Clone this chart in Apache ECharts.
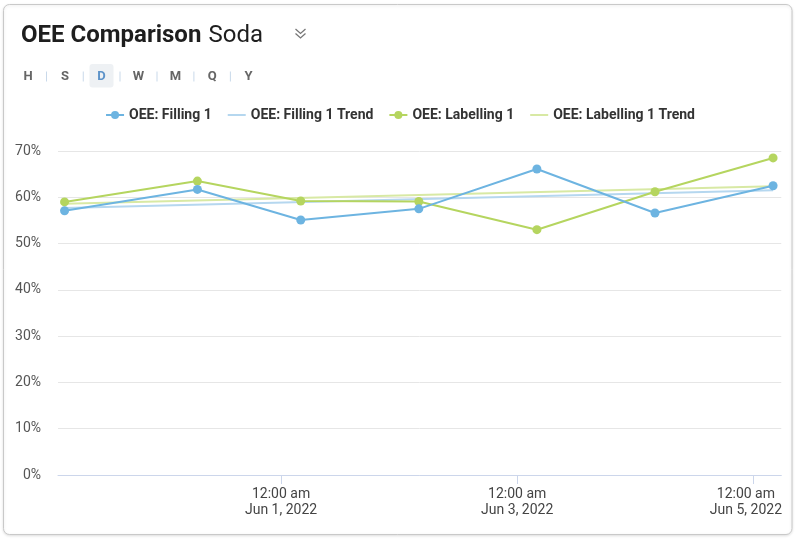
<!DOCTYPE html>
<html>
<head>
<meta charset="utf-8">
<script src="https://cdn.jsdelivr.net/npm/echarts@6/dist/echarts.min.js"></script>
<style>
html,body{margin:0;padding:0;background:#fff;}
#chart{width:800px;height:543px;}
</style>
</head>
<body>
<div id="chart"></div>
<script>
// ---- data ----
const times = ['2022-05-30 04:00', '2022-05-31 07:00', '2022-06-01 04:00', '2022-06-02 04:00', '2022-06-03 04:00', '2022-06-04 04:00', '2022-06-05 04:00'];
const filling1 = [57.1, 61.7, 55.1, 57.5, 66.1, 56.6, 62.5];
const labelling1 = [59.0, 63.5, 59.2, 59.1, 53.0, 61.2, 68.5];
const trendTimes = ['2022-05-30 04:00', '2022-06-05 04:00'];
const filling1Trend = [57.7, 61.5];
const labelling1Trend = [58.6, 62.4];
const xTickTimes = ['2022-06-01 00:00', '2022-06-03 00:00', '2022-06-05 00:00'];
const xTickLabels = [['12:00 am', 'Jun 1, 2022'], ['12:00 am', 'Jun 3, 2022'], ['12:00 am', 'Jun 5, 2022']];
const xRange = ['2022-05-30 02:40', '2022-06-05 05:40'];
const yTicks = [0, 10, 20, 30, 40, 50, 60, 70];
const seriesNames = ['OEE: Filling 1', 'OEE: Filling 1 Trend', 'OEE: Labelling 1', 'OEE: Labelling 1 Trend'];
const periodButtons = ['H', 'S', 'D', 'W', 'M', 'Q', 'Y'];

function parseT(s) {
  const [d, t] = s.split(' ');
  const [y, m, day] = d.split('-').map(Number);
  const [hh, mm] = t.split(':').map(Number);
  return Date.UTC(y, m - 1, day, hh, mm);
}
const pair = (ts, vs) => ts.map((t, i) => [parseT(t), vs[i]]);
const tickVals = xTickTimes.map(parseT);

const FONT = 'Roboto, "Noto Sans", sans-serif';
const BLUE = '#6db4e1';
const GREEN = '#b5d55f';
const BLUE_T = '#b5d7ef';
const GREEN_T = '#d8e9a4';

// ---- graphic: card, title, period buttons, chevron ----
const graphics = [
  { type: 'rect', z: -10, shape: { x: 3.5, y: 4.5, width: 788.5, height: 530, r: 6 },
    style: { fill: '#fff', stroke: '#c9c9c9', lineWidth: 1, shadowBlur: 3, shadowColor: 'rgba(0,0,0,0.12)', shadowOffsetY: 1 } },
  { type: 'text', x: 21, y: 24,
    style: { text: 'OEE Comparison', fontFamily: FONT, fontSize: 24, fontWeight: 'bold', fill: '#1e1e1e', verticalAlign: 'top' } },
  { type: 'text', x: 208.5, y: 24,
    style: { text: 'Soda', fontFamily: FONT, fontSize: 24, fontWeight: 'normal', fill: '#1e1e1e', verticalAlign: 'top' } },
  { type: 'polyline', shape: { points: [[295.5, 29], [300.5, 33.5], [305.5, 29]] }, style: { stroke: '#777', lineWidth: 1.3, fill: null } },
  { type: 'polyline', shape: { points: [[295.5, 33.5], [300.5, 38], [305.5, 33.5]] }, style: { stroke: '#777', lineWidth: 1.3, fill: null } },
  { type: 'rect', shape: { x: 89.5, y: 64, width: 24, height: 23.5, r: 3 }, style: { fill: '#eef1f4' } }
];
const btnX = [28, 65, 101.5, 138.5, 175.5, 212.3, 248.5];
periodButtons.forEach((b, i) => {
  graphics.push({ type: 'text', x: btnX[i], y: 76.5,
    style: { text: b, fontFamily: FONT, fontSize: 13, fontWeight: 'bold', fill: b === 'D' ? '#5d93c9' : '#666',
      align: 'center', verticalAlign: 'middle' } });
  if (i < periodButtons.length - 1) {
    const sx = (btnX[i] + btnX[i + 1]) / 2;
    graphics.push({ type: 'line', shape: { x1: sx, y1: 71.5, x2: sx, y2: 81.5 }, style: { stroke: '#c9d9ea', lineWidth: 1 } });
  }
});

const legendData = seriesNames.map((n, i) => (i % 2 === 1 ? { name: n, itemStyle: { opacity: 0 } } : { name: n }));

const chart = echarts.init(document.getElementById('chart'), null, { renderer: 'canvas' });
chart.setOption({
  animation: false,
  backgroundColor: 'transparent',
  graphic: graphics,
  legend: {
    top: 103, left: 'center',
    itemWidth: 18, itemHeight: 10, itemGap: 15,
    textStyle: { fontFamily: FONT, fontSize: 14, fontWeight: 'bold', color: '#333' },
    data: legendData
  },
  grid: { left: 58, right: 18, top: 151, bottom: 68 },
  xAxis: {
    type: 'value',
    min: parseT(xRange[0]), max: parseT(xRange[1]),
    axisLine: { show: true, lineStyle: { color: '#ccd6eb', width: 1 } },
    axisTick: { show: true, length: 9, customValues: tickVals, lineStyle: { color: '#ccd6eb' } },
    splitLine: { show: false },
    axisLabel: {
      customValues: tickVals,
      fontFamily: FONT, fontSize: 14, color: '#444', lineHeight: 16, margin: 11,
      rich: {
        n: { fontFamily: FONT, fontSize: 14, color: '#444', lineHeight: 16 },
        e: { fontFamily: FONT, fontSize: 14, color: '#444', lineHeight: 16, padding: [0, 15, 0, 0] }
      },
      formatter: function (v) {
        const i = tickVals.indexOf(v);
        if (i < 0) return '';
        const k = i === tickVals.length - 1 ? 'e' : 'n';
        return xTickLabels[i].map(s => '{' + k + '|' + s + '}').join('\n');
      }
    }
  },
  yAxis: {
    type: 'value', min: yTicks[0], max: yTicks[yTicks.length - 1], interval: 10,
    axisLine: { show: false }, axisTick: { show: false },
    splitLine: { lineStyle: { color: '#e6e6e6', width: 1 } },
    axisLabel: { formatter: '{value}%', fontFamily: FONT, fontSize: 14, color: '#555', margin: 17 }
  },
  series: [
    { name: seriesNames[0], type: 'line', data: pair(times, filling1), color: BLUE,
      symbol: 'circle', symbolSize: 9, lineStyle: { width: 2 }, z: 4 },
    { name: seriesNames[1], type: 'line', data: pair(trendTimes, filling1Trend), color: BLUE_T,
      symbol: 'none', lineStyle: { width: 2 }, z: 2 },
    { name: seriesNames[2], type: 'line', data: pair(times, labelling1), color: GREEN,
      symbol: 'circle', symbolSize: 9, lineStyle: { width: 2 }, z: 3 },
    { name: seriesNames[3], type: 'line', data: pair(trendTimes, labelling1Trend), color: GREEN_T,
      symbol: 'none', lineStyle: { width: 2 }, z: 2 }
  ]
});
</script>
</body>
</html>
